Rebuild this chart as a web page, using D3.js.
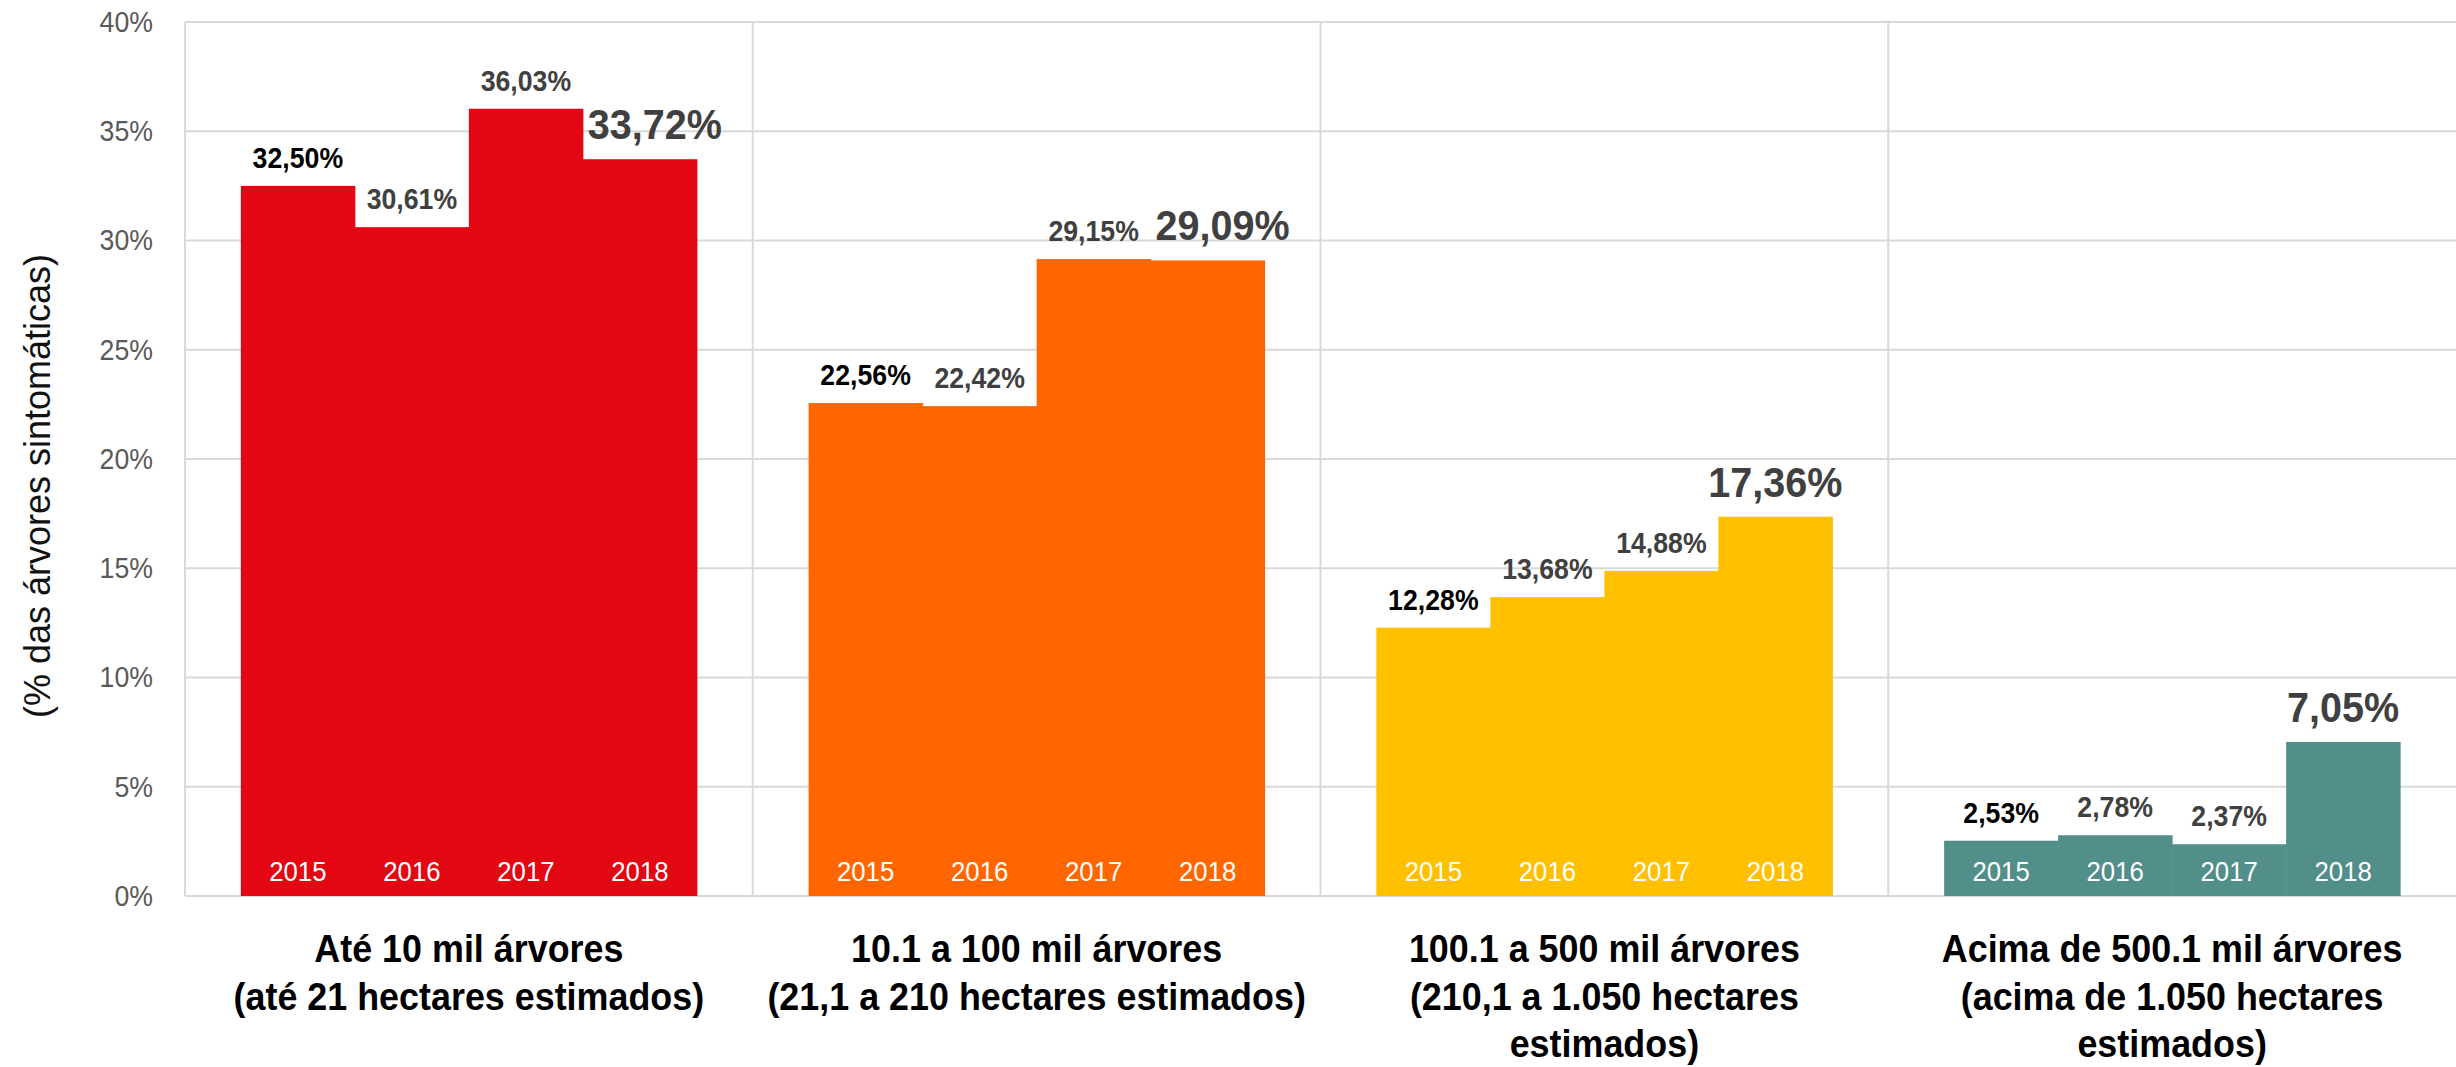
<!DOCTYPE html>
<html>
<head>
<meta charset="utf-8">
<script src="https://cdn.jsdelivr.net/npm/d3@7"></script>
<style>
  html, body { margin: 0; padding: 0; background: #fff; }
  svg { display: block; }
</style>
</head>
<body>
<svg id="chart"></svg>
<script>
// categories (each one broken into the lines shown under the axis)
var categories = ['g1', 'g2', 'g3', 'g4']
var categoryLines = [
    ['Até 10 mil árvores', '(até 21 hectares estimados)'],
    ['10.1 a 100 mil árvores', '(21,1 a 210 hectares estimados)'],
    ['100.1 a 500 mil árvores', '(210,1 a 1.050 hectares', 'estimados)'],
    ['Acima de 500.1 mil árvores', '(acima de 1.050 hectares', 'estimados)']
]
var years = ['2015', '2016', '2017', '2018']
// % of symptomatic trees, one array per category, in year order
var values = [
    [32.50, 30.61, 36.03, 33.72],
    [22.56, 22.42, 29.15, 29.09],
    [12.28, 13.68, 14.88, 17.36],
    [2.53, 2.78, 2.37, 7.05]
]
var colors = ['#E30613', '#FF6600', '#FFC000', '#528E8A']
var yTicks = [0, 5, 10, 15, 20, 25, 30, 35, 40]
var yTitle = '(% das árvores sintomáticas)'

var width = 2456
var height = 1067
var plotLeft = 185, plotRight = 2456, plotTop = 22, plotBottom = 896

var svg = d3.select('#chart').attr('width', width).attr('height', height)

// check if a real narrow face is installed, otherwise squeeze Liberation Sans
function measure(family) {
    var t = svg.append('text').attr('font-family', family).attr('font-size', 40).text('2015 árvores 33,72%')
    var w = t.node().getComputedTextLength()
    t.remove()
    return w
}
var hasNarrow = measure('"Liberation Sans Narrow"') / measure('"Liberation Sans"') < 0.9
var narrowFamily = hasNarrow ? '"Liberation Sans Narrow", "Arial Narrow", sans-serif' : '"Liberation Sans", Arial, sans-serif'
var squeeze = hasNarrow ? 0.92 : 0.75

var x = d3.scaleBand().domain(categories).range([plotLeft, plotRight]).padding(0)
var xYear = d3.scaleBand().domain(years).range([0, x.bandwidth()]).paddingInner(0).paddingOuter(0.49)
var y = d3.scaleLinear().domain([0, 40]).range([plotBottom, plotTop])

var fmt = function (v) { return v.toFixed(2).replace('.', ',') + '%' }

// grid
var grid = svg.append('g').attr('class', 'grid')
grid.selectAll('line.h')
    .data(yTicks)
    .enter().append('line')
    .attr('class', 'h')
    .attr('x1', plotLeft).attr('x2', plotRight)
    .attr('y1', function (d) { return y(d) }).attr('y2', function (d) { return y(d) })
    .attr('stroke', '#D9D9D9').attr('stroke-width', 2)
grid.selectAll('line.v')
    .data(categories)
    .enter().append('line')
    .attr('class', 'v')
    .attr('x1', function (d) { return x(d) }).attr('x2', function (d) { return x(d) })
    .attr('y1', y(40)).attr('y2', y(0))
    .attr('stroke', '#D9D9D9').attr('stroke-width', 2)

// y axis labels
var yAxis = svg.append('g')
    .attr('transform', 'translate(' + (plotLeft - 32) + ',0)')
    .call(d3.axisLeft(y).tickValues(yTicks).tickSize(0).tickFormat(function (d) { return d + '%' }))
yAxis.select('.domain').remove()
yAxis.selectAll('text')
    .attr('class', 'narrow')
    .attr('font-size', 29)
    .attr('fill', '#595959')
    .attr('x', 0)
    .attr('y', 0)

svg.append('text')
    .attr('transform', 'translate(50,486) rotate(-90)')
    .attr('text-anchor', 'middle')
    .attr('font-family', '"Liberation Sans", Arial, sans-serif')
    .attr('font-size', 36)
    .attr('fill', '#111')
    .text(yTitle)

// bars
var groups = svg.append('g').selectAll('g.cat')
    .data(categories)
    .enter().append('g')
    .attr('class', 'cat')
    .attr('transform', function (d) { return 'translate(' + x(d) + ',0)' })

groups.each(function (cat, ci) {
    var g = d3.select(this)
    var rows = years.map(function (yr, i) { return { year: yr, value: values[ci][i], i: i } })

    g.selectAll('rect')
        .data(rows)
        .enter().append('rect')
        .attr('x', function (d) { return xYear(d.year) })
        .attr('width', xYear.bandwidth() + 0.5)
        .attr('y', function (d) { return y(d.value) })
        .attr('height', function (d) { return y(0) - y(d.value) })
        .attr('fill', colors[ci])

    // year labels inside the bars
    g.selectAll('text.year')
        .data(rows)
        .enter().append('text')
        .attr('class', 'year narrow')
        .attr('x', function (d) { return xYear(d.year) + xYear.bandwidth() / 2 })
        .attr('y', y(0) - 15)
        .attr('text-anchor', 'middle')
        .attr('font-size', 28)
        .attr('fill', '#fff')
        .text(function (d) { return d.year })

    // value labels above bars, last year is bigger and
    // pushed right when the bar before it is taller
    g.selectAll('text.val')
        .data(rows)
        .enter().append('text')
        .attr('class', 'val narrow')
        .attr('x', function (d) {
            var shift = (d.i === 3 && values[ci][2] > d.value) ? 15 : 0
            return xYear(d.year) + xYear.bandwidth() / 2 + shift
        })
        .attr('y', function (d) { return y(d.value) - (d.i === 3 ? 20 : 18) })
        .attr('text-anchor', 'middle')
        .attr('font-weight', 'bold')
        .attr('font-size', function (d) { return d.i === 3 ? 43 : 29 })
        .attr('fill', function (d) { return d.i === 0 ? '#000' : '#404040' })
        .text(function (d) { return fmt(d.value) })

    // category label lines
    g.selectAll('text.cat')
        .data(categoryLines[ci])
        .enter().append('text')
        .attr('class', 'cat narrow')
        .attr('x', x.bandwidth() / 2)
        .attr('y', function (d, i) { return 962 + i * 47.5 })
        .attr('text-anchor', 'middle')
        .attr('font-weight', 'bold')
        .attr('font-size', 39)
        .attr('fill', '#000')
        .text(function (d) { return d })
})

// apply the narrow face (or squeeze the regular one)
svg.selectAll('text.narrow').each(function () {
    var t = d3.select(this)
    var tx = +t.attr('x') || 0
    var ty = +t.attr('y') || 0
    var dy = t.attr('dy')
    t.attr('font-family', narrowFamily)
    if (squeeze !== 1) {
        t.attr('x', 0).attr('y', 0)
            .attr('transform', 'translate(' + tx + ',' + ty + ') scale(' + squeeze + ',1)')
    }
    if (dy) t.attr('dy', dy)
})
</script>
</body>
</html>
